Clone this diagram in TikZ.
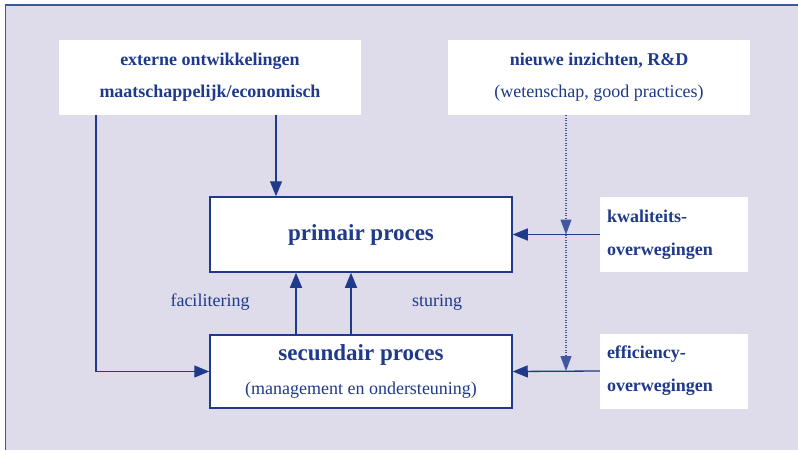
\documentclass[tikz,border=0pt]{standalone}
\usepackage{fontspec}
\setmainfont{Liberation Serif}
\usetikzlibrary{arrows.meta, positioning}

\definecolor{navy}{HTML}{1F3A8A}
\definecolor{lavender}{HTML}{DEDBEB}
\definecolor{framec}{HTML}{3D56A0}

\begin{document}
\begin{tikzpicture}[x=1pt, y=-1pt,
    every node/.style={font=\fontsize{18}{32}\selectfont, text=navy},
    box/.style={fill=white, minimum width=302pt, minimum height=75pt, align=center, inner sep=0pt},
    sidebox/.style={fill=white, minimum width=148pt, minimum height=75pt, text width=134pt, align=left, inner sep=0pt,
        font=\fontsize{18}{33}\selectfont\bfseries},
    arr/.style={draw=navy, line width=1.3pt, -{Triangle[length=15pt, width=12pt]}},
    dotarr/.style={draw=navy!85!white, line width=1.1pt, dash pattern=on 1pt off 1.5pt, -{Triangle[length=15pt, width=11pt]}}]
    \useasboundingbox (0,0) rectangle (798,450);

    % Background and frame
    \fill[lavender] (6,5) rectangle (798,450);
    \draw[framec, line width=1.5pt] (5.5,450) -- (5.5,5) -- (798,5);

    % Outside influences
    \node[box, font=\fontsize{18}{32}\selectfont\bfseries] (ext) at (210,77.5) {externe ontwikkelingen\\maatschappelijk/economisch};
    \node[box] (nieuw) at (599,77.5) {\textbf{nieuwe inzichten, R\&D}\\(wetenschap, good practices)};

    % Processes
    \node[box, draw=navy, line width=1.5pt, font=\fontsize{23}{28}\selectfont\bfseries] (prim) at (361,234.5) {primair proces};
    \node[box, draw=navy, line width=1.5pt, minimum height=73pt] (sec) at (361,371.5)
        {{\fontsize{23}{28}\selectfont\bfseries secundair proces}\\[2pt](management en ondersteuning)};

    % Considerations
    \node[sidebox] (kwal) at (674,234.5) {kwaliteits-\\overwegingen};
    \node[sidebox] (eff) at (674,371) {efficiency-\\overwegingen};

    % Column positions
    \coordinate (xa) at (96,0);
    \coordinate (xb) at (276,0);
    \coordinate (xc) at (296,0);
    \coordinate (xd) at (351,0);
    \coordinate (xe) at (566,0);

    % Arrows from outside
    \draw[arr] (ext.south -| xb) -- (prim.north -| xb);
    \draw[arr] (ext.south -| xa) |- (sec.west);
    \draw[arr] (kwal.west) -- (prim.east);
    \draw[arr] (eff.west) -- (sec.east);
    \draw[dotarr] (nieuw.south -| xe) -- (kwal.west -| xe);
    \draw[dotarr] (kwal.west -| xe) -- (eff.west -| xe);

    % Secondary to primary
    \draw[arr] (sec.north -| xc) -- (prim.south -| xc);
    \draw[arr] (sec.north -| xd) -- (prim.south -| xd);
    \node (fac) at (210,302) {facilitering};
    \node (stur) at (437,302) {sturing};

\end{tikzpicture}
\end{document}
